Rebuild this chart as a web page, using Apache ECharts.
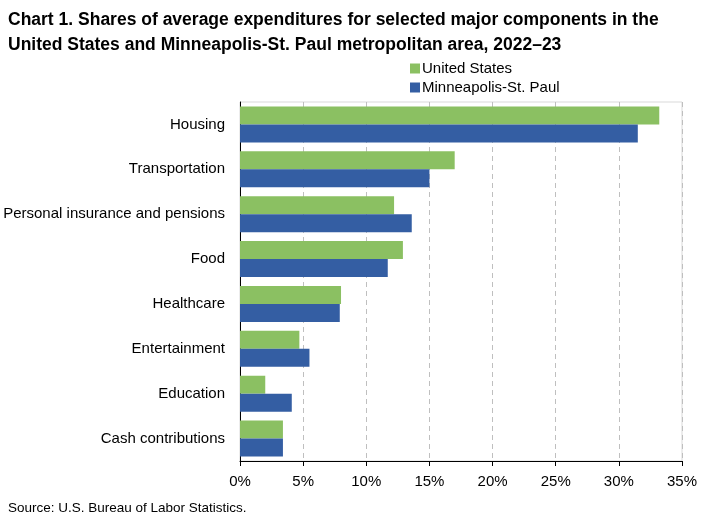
<!DOCTYPE html>
<html><head><meta charset="utf-8">
<script src="https://cdn.jsdelivr.net/npm/echarts@6/dist/echarts.min.js"></script>
<style>html,body{margin:0;padding:0;background:#fff}#c{width:707px;height:523px}</style>
</head><body><div id="c"></div>
<script>
const categories = ["Housing","Transportation","Personal insurance and pensions","Food","Healthcare","Entertainment","Education","Cash contributions"];
const unitedStates = [33.2, 17.0, 12.2, 12.9, 8.0, 4.7, 2.0, 3.4];
const minneapolis = [31.5, 15.0, 13.6, 11.7, 7.9, 5.5, 4.1, 3.4];
const seriesNames = ["United States", "Minneapolis-St. Paul"];
const xTicks = {min: 0, max: 35, interval: 5};

const font = "'Liberation Sans', Arial, sans-serif";
const chart = echarts.init(document.getElementById('c'));
chart.setOption({
  animation: false,
  title: {
    text: "Chart 1. Shares of average expenditures for selected major components in the\nUnited States and Minneapolis-St. Paul metropolitan area, 2022\u201323",
    left: 8, top: 8, padding: 0,
    textStyle: {fontFamily: font, fontWeight: 'bold', fontSize: 17.5, lineHeight: 25, color: '#000'}
  },
  legend: {
    orient: 'vertical', left: 405, top: 56,
    itemWidth: 10, itemHeight: 10, itemGap: 4,
    icon: 'rect',
    textStyle: {fontFamily: font, fontSize: 15, color: '#000', padding: [0,0,0,-3]},
    data: seriesNames
  },
  grid: {left: 240, right: 25, top: 102, bottom: 62, show: true, borderColor: '#d9d9d9', borderWidth: 1},
  xAxis: {
    type: 'value', min: xTicks.min, max: xTicks.max, interval: xTicks.interval,
    axisLabel: {formatter: v => v + '%', fontFamily: font, fontSize: 15, color: '#000', margin: 13},
    axisLine: {show: true, lineStyle: {color: '#000'}},
    axisTick: {show: true, length: 5, lineStyle: {color: '#000'}},
    splitLine: {show: true, lineStyle: {type: [5, 4], color: '#bfbfbf'}}
  },
  yAxis: {
    type: 'category', inverse: true, data: categories,
    axisLabel: {fontFamily: font, fontSize: 15, color: '#000', margin: 15, padding: [4,0,0,0]},
    axisLine: {show: true, lineStyle: {color: '#000'}},
    axisTick: {show: false}
  },
  series: [
    {name: seriesNames[0], type: 'bar', data: unitedStates, itemStyle: {color: '#8bc062'}, barGap: '0%', barCategoryGap: '20%'},
    {name: seriesNames[1], type: 'bar', data: minneapolis, itemStyle: {color: '#345ea3'}, barGap: '0%', barCategoryGap: '20%'}
  ],
  graphic: [{
    type: 'text', left: 8, top: 501,
    style: {text: 'Source: U.S. Bureau of Labor Statistics.', font: "13.5px 'Liberation Sans', Arial, sans-serif", fill: '#000'}
  }]
});
</script></body></html>
